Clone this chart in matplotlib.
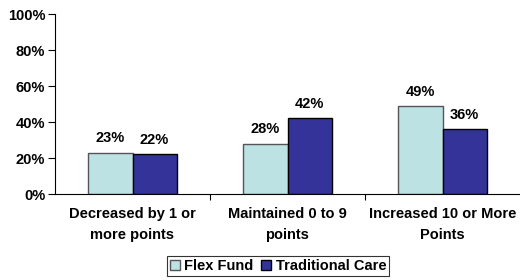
import matplotlib.pyplot as plt
import numpy as np

plt.rcParams['font.family'] = ['Liberation Sans', 'DejaVu Sans']
plt.rcParams['font.weight'] = 'bold'

categories = ["Decreased by 1 or\nmore points", "Maintained 0 to 9\npoints", "Increased 10 or More\nPoints"]
flex_fund = [23, 28, 49]
traditional = [22, 42, 36]
series_names = ["Flex Fund", "Traditional Care"]

fs = 10.5

fig = plt.figure(figsize=(5.2, 2.8), dpi=100)
ax = fig.add_axes([55/520, 1 - 194/280, 465/520, 180/280])

x = np.arange(len(categories))
w = 0.284
b1 = ax.bar(x - w/2, flex_fund, w, color='#BDE2E3', edgecolor='#555555', linewidth=1, label=series_names[0])
b2 = ax.bar(x + w/2, traditional, w, color='#333399', edgecolor='black', linewidth=1, label=series_names[1])

for bars, vals in [(b1, flex_fund), (b2, traditional)]:
    for bar, v in zip(bars, vals):
        ax.text(bar.get_x() + bar.get_width()/2, v + 4, f"{v}%", ha='center', va='bottom',
                fontsize=fs, fontweight='bold')

ax.set_xlim(-0.5, 2.5)
ax.set_ylim(0, 100)
ax.set_yticks(range(0, 101, 20))
ax.set_yticklabels([f"{t}%" for t in range(0, 101, 20)], fontsize=fs, fontweight='bold')
ax.set_xticks([0.5, 1.5])
ax.set_xticklabels([])
ax.tick_params(axis='x', length=4, width=0.8, direction='out')
ax.tick_params(axis='y', length=5, width=0.8, direction='out', pad=2)
for i, c in enumerate(categories):
    ax.text(i, -7, c, ha='center', va='top', fontsize=fs, fontweight='bold',
            transform=ax.transData, linespacing=1.7)

ax.spines['top'].set_visible(False)
ax.spines['right'].set_visible(False)
ax.spines['left'].set_linewidth(0.8)
ax.spines['bottom'].set_linewidth(0.8)

leg = fig.legend(handles=[b1, b2], loc='center', bbox_to_anchor=(278/520, 1 - 266/280),
                 ncol=2, frameon=True, fancybox=False, edgecolor='black',
                 prop={'size': fs, 'weight': 'bold'}, handlelength=0.7, handleheight=0.7,
                 handletextpad=0.3, columnspacing=0.5, borderpad=0.2, borderaxespad=0)
leg.get_frame().set_linewidth(0.8)

fig.savefig('out.png', dpi=100)
